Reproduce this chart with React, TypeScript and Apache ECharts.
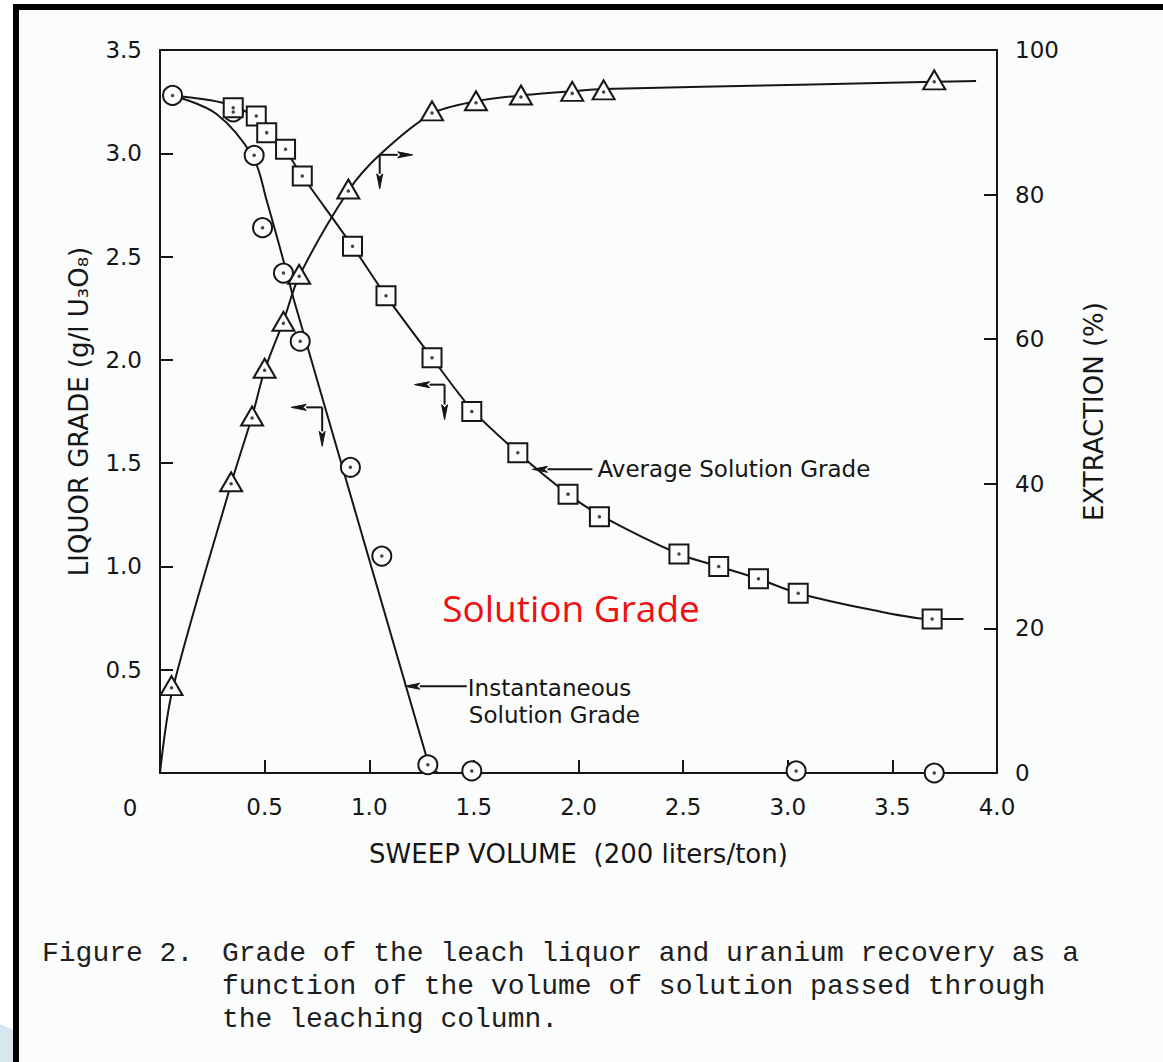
import React, { useEffect, useRef } from "react";
import * as echarts from "echarts";

// ---------- axes ----------
const X_MIN = 0;
const X_MAX = 4;
const X_STEP = 0.5;
const YL_MIN = 0;
const YL_MAX = 3.5;
const YL_STEP = 0.5;
const YR_MIN = 0;
const YR_MAX = 100;
const YR_STEP = 20;

const X_TITLE = "SWEEP VOLUME  (200 liters/ton)";
const YL_TITLE = "LIQUOR GRADE (g/l U\u2083O\u2088)";
const YR_TITLE = "EXTRACTION (%)";

// ---------- instantaneous solution grade (circles, left axis) ----------
const instX = [0.06, 0.35, 0.45, 0.49, 0.59, 0.67, 0.91, 1.06, 1.28, 1.49, 3.04, 3.7];
const instY = [3.28, 3.2, 2.99, 2.64, 2.42, 2.09, 1.48, 1.05, 0.04, 0.01, 0.01, 0.0];
// curve drawn through the circles (curved top, straight fall, then zero)
const instCurveX = [0.06, 0.27, 0.445, 0.51, 0.59, 0.64];
const instCurveY = [3.28, 3.19, 2.98, 2.77, 2.48, 2.29];
const instFallX = [0.64, 1.29, 1.33, 4.0];
const instFallY = [2.29, 0.02, 0.0, 0.0];

// ---------- average solution grade (squares, left axis) ----------
const avgX = [0.35, 0.46, 0.51, 0.6, 0.68, 0.92, 1.08, 1.3, 1.49, 1.71, 1.95, 2.1, 2.48, 2.67, 2.86, 3.05, 3.69];
const avgY = [3.22, 3.18, 3.1, 3.02, 2.89, 2.55, 2.31, 2.01, 1.75, 1.55, 1.35, 1.24, 1.06, 1.0, 0.94, 0.87, 0.745];
const avgCurveX = [0.06, 0.32, 0.46, 0.51, 0.6, 0.68, 0.92, 1.08, 1.3, 1.49, 1.71, 1.95, 2.1, 2.48, 2.67, 2.86, 3.05, 3.4, 3.69, 3.84];
const avgCurveY = [3.28, 3.24, 3.17, 3.1, 3.01, 2.89, 2.55, 2.31, 2.01, 1.76, 1.55, 1.35, 1.25, 1.06, 1.0, 0.94, 0.87, 0.79, 0.745, 0.745];

// ---------- extraction (triangles, right axis) ----------
const extX = [0.055, 0.34, 0.44, 0.5, 0.59, 0.665, 0.9, 1.3, 1.51, 1.725, 1.97, 2.12, 3.7];
const extY = [11.8, 40.0, 49.1, 55.7, 62.2, 68.7, 80.5, 91.3, 92.7, 93.5, 94.0, 94.2, 95.6];
const extCurveX = [0, 0.06, 0.34, 0.44, 0.5, 0.59, 0.665, 0.9, 1.05, 1.3, 1.51, 1.72, 1.97, 2.12, 3.06, 3.7, 3.9];
const extCurveY = [0, 11.5, 40.0, 49.3, 55.7, 62.5, 68.7, 80.5, 85.5, 91.2, 92.9, 93.7, 94.3, 94.6, 95.2, 95.6, 95.7];

// ---------- annotations ----------
const AVG_LABEL = "Average Solution Grade";
const INST_LABEL_1 = "Instantaneous";
const INST_LABEL_2 = "Solution Grade";
const RED_LABEL = "Solution Grade";
const CAPTION_HEAD = "Figure 2.";
const CAPTION_LINES = [
  "Grade of the leach liquor and uranium recovery as a",
  "function of the volume of solution passed through",
  "the leaching column.",
];

const INK = "#161616";
const BG = "#fbfdfd";
const FONT = "'DejaVu Sans', sans-serif";

const zip = (xs: number[], ys: number[]) => xs.map((x, i) => [x, ys[i]]);

function arrow(x1: number, y1: number, x2: number, y2: number, headLen = 15, headW = 6): any[] {
  const dx = x2 - x1;
  const dy = y2 - y1;
  const len = Math.sqrt(dx * dx + dy * dy) || 1;
  const ux = dx / len;
  const uy = dy / len;
  const bx = x2 - ux * headLen;
  const by = y2 - uy * headLen;
  const px = -uy * (headW / 2);
  const py = ux * (headW / 2);
  return [
    {
      type: "line",
      shape: { x1, y1, x2: bx, y2: by },
      style: { stroke: INK, lineWidth: 2 },
      z: 50,
    },
    {
      type: "polygon",
      shape: {
        points: [
          [x2, y2],
          [bx + px, by + py],
          [bx + ux * 3, by + uy * 3],
          [bx - px, by - py],
        ],
      },
      style: { fill: INK, stroke: INK, lineWidth: 1 },
      z: 50,
    },
  ];
}

function textEl(x: number, y: number, text: string, opts: any = {}): any {
  return {
    type: "text",
    x,
    y,
    z: 60,
    style: {
      text,
      fill: opts.fill || INK,
      fontSize: opts.fontSize || 23,
      fontFamily: opts.fontFamily || FONT,
      align: opts.align || "left",
      verticalAlign: "middle",
      textAlign: opts.align || "left",
      textVerticalAlign: "middle",
    },
  };
}

export default function App() {
  const ref = useRef<HTMLDivElement>(null);

  useEffect(() => {
    if (!ref.current) return;
    const chart = echarts.init(ref.current, undefined, { renderer: "svg" });

    const axisLine = { show: true, onZero: false, lineStyle: { color: INK, width: 2 } };
    const axisTick = { show: true, inside: true, length: 13, lineStyle: { color: INK, width: 2 } };
    const labelStyle = { color: INK, fontSize: 23, fontFamily: FONT };
    const nameStyle = { color: INK, fontSize: 26, fontFamily: FONT };

    const lineSeries = (data: number[][], yAxisIndex: number, smooth: any) => ({
      type: "line",
      data,
      yAxisIndex,
      smooth,
      showSymbol: false,
      symbol: "none",
      clip: false,
      silent: true,
      lineStyle: { color: INK, width: 2 },
      z: 2,
    });

    const markerSeries = (data: number[][], yAxisIndex: number, symbol: string, size: any, offset: number[] = [0, 0]) => ({
      type: "scatter",
      data,
      yAxisIndex,
      symbol,
      symbolSize: size,
      symbolOffset: offset,
      clip: false,
      silent: true,
      itemStyle: { color: BG, borderColor: INK, borderWidth: 2, opacity: 1 },
      z: 4,
    });

    const dotSeries = (data: number[][], yAxisIndex: number) => ({
      type: "scatter",
      data,
      yAxisIndex,
      symbol: "circle",
      symbolSize: 3.5,
      clip: false,
      silent: true,
      itemStyle: { color: INK },
      z: 5,
    });

    const option: any = {
      animation: false,
      backgroundColor: "transparent",
      grid: { left: 160, right: 166, top: 50, bottom: 289, containLabel: false },
      xAxis: [
        {
          type: "value",
          min: X_MIN,
          max: X_MAX,
          interval: X_STEP,
          position: "bottom",
          axisLine,
          axisTick,
          splitLine: { show: false },
          axisLabel: {
            ...labelStyle,
            margin: 22,
            formatter: (v: number) => (v === 0 ? "" : v.toFixed(1)),
          },
          name: X_TITLE,
          nameLocation: "middle",
          nameGap: 68,
          nameTextStyle: nameStyle,
        },
        {
          type: "value",
          min: X_MIN,
          max: X_MAX,
          position: "top",
          axisLine,
          axisTick: { show: false },
          axisLabel: { show: false },
          splitLine: { show: false },
        },
      ],
      yAxis: [
        {
          type: "value",
          min: YL_MIN,
          max: YL_MAX,
          interval: YL_STEP,
          position: "left",
          axisLine,
          axisTick,
          splitLine: { show: false },
          axisLabel: {
            ...labelStyle,
            margin: 18,
            formatter: (v: number) => (v === 0 ? "" : v.toFixed(1)),
          },
          name: YL_TITLE,
          nameLocation: "middle",
          nameRotate: 90,
          nameGap: 68,
          nameTextStyle: nameStyle,
        },
        {
          type: "value",
          min: YR_MIN,
          max: YR_MAX,
          interval: YR_STEP,
          position: "right",
          axisLine,
          axisTick,
          splitLine: { show: false },
          axisLabel: { ...labelStyle, margin: 18, formatter: (v: number) => String(v) },
          name: YR_TITLE,
          nameLocation: "middle",
          nameRotate: 90,
          nameGap: 84,
          nameTextStyle: nameStyle,
        },
      ],
      series: [
        lineSeries(zip(instCurveX, instCurveY), 0, 0.35),
        lineSeries(zip(instFallX, instFallY), 0, false),
        lineSeries(zip(avgCurveX, avgCurveY), 0, 0.3),
        lineSeries(zip(extCurveX, extCurveY), 1, 0.3),
        markerSeries(zip(instX, instY), 0, "circle", 19),
        markerSeries(zip(avgX, avgY), 0, "rect", 19),
        markerSeries(zip(extX, extY), 1, "triangle", [22, 19], [0, -2]),
        dotSeries(zip(instX, instY), 0),
        dotSeries(zip(avgX, avgY), 0),
        dotSeries(zip(extX, extY), 1),
      ],
    };

    chart.setOption(option);

    const P = (x: number, y: number, axis = 0): number[] =>
      chart.convertToPixel({ xAxisIndex: 0, yAxisIndex: axis } as any, [x, y]) as number[];

    const g: any[] = [];
    // page frame
    g.push({ type: "rect", shape: { x: 0, y: 0, width: 13, height: 1062 }, style: { fill: "#ffffff" }, z: 1 });
    g.push({ type: "rect", shape: { x: 0, y: 0, width: 1163, height: 4 }, style: { fill: "#ffffff" }, z: 1 });
    g.push({
      type: "polygon",
      shape: { points: [[0, 1024], [13, 1030], [13, 1062], [0, 1062]] },
      style: { fill: "#d6e7ef" },
      z: 1,
    });
    g.push({ type: "rect", shape: { x: 13, y: 4, width: 6, height: 1058 }, style: { fill: "#000" }, z: 2 });
    g.push({ type: "rect", shape: { x: 13, y: 4, width: 1150, height: 6 }, style: { fill: "#000" }, z: 2 });

    // "0" at origin of x axis
    const o = P(0, 0, 0);
    g.push(textEl(o[0] - 30, o[1] + 35, "0", { align: "center" }));

    // axis-pointer arrows
    const e = P(1.05, 85.5, 1);
    g.push(...arrow(e[0], e[1], e[0] + 33, e[1]));
    g.push(...arrow(e[0], e[1], e[0], e[1] + 34));
    const ia = P(0.775, 1.77, 0);
    g.push(...arrow(ia[0], ia[1], ia[0] - 31, ia[1]));
    g.push(...arrow(ia[0], ia[1], ia[0], ia[1] + 39));
    const aa = P(1.36, 1.88, 0);
    g.push(...arrow(aa[0], aa[1], aa[0] - 30, aa[1]));
    g.push(...arrow(aa[0], aa[1], aa[0], aa[1] + 35));

    // labels with leader arrows
    const at = P(1.78, 1.47, 0);
    g.push(...arrow(at[0] + 60, at[1], at[0], at[1]));
    g.push(textEl(at[0] + 65, at[1], AVG_LABEL));
    const it = P(1.17, 0.42, 0);
    g.push(...arrow(it[0] + 62, it[1], it[0], it[1]));
    g.push(textEl(it[0] + 63, it[1] + 2, INST_LABEL_1));
    g.push(textEl(it[0] + 64, it[1] + 29, INST_LABEL_2));

    // red overlay label
    g.push(textEl(571, 607, RED_LABEL, { align: "center", fontSize: 37, fontFamily: "'Open Sans', sans-serif", fill: "#ee1111" }));

    // caption
    const capFont = { fontSize: 28, fontFamily: "'Liberation Mono', monospace", fill: "#1e1e1e" };
    g.push(textEl(42, 953, CAPTION_HEAD, capFont));
    CAPTION_LINES.forEach((line, i) => g.push(textEl(222, 953 + i * 33, line, capFont)));

    chart.setOption({ graphic: { elements: g } });

    return () => chart.dispose();
  }, []);

  return (
    <div
      ref={ref}
      style={{ position: "fixed", left: 0, top: 0, width: 1163, height: 1062, background: BG }}
    />
  );
}
